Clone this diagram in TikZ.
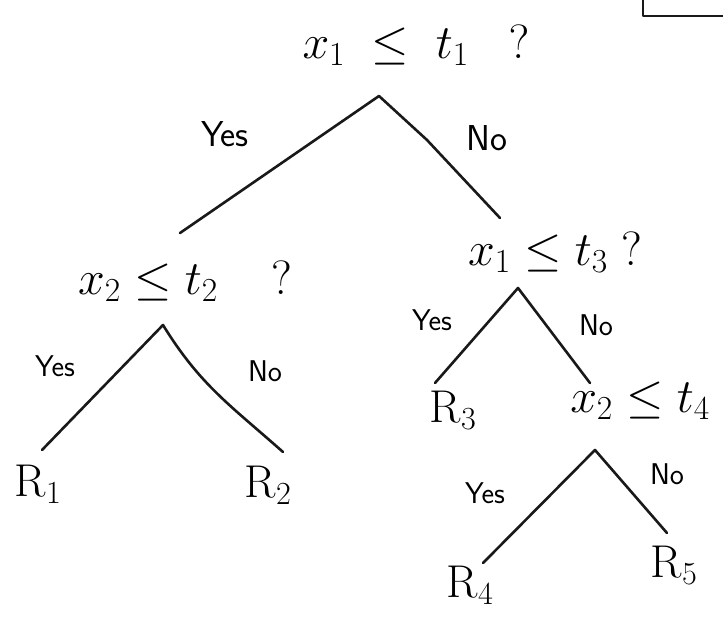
\RequirePackage{fix-cm}
\documentclass[tikz,border=0pt]{standalone}
\usepackage{fontspec}
\begin{document}
\begin{tikzpicture}[x=1pt,y=-1pt,
  edge/.style={line width=2.6pt, line cap=round, line join=round, black!90},
  cond/.style={inner sep=0pt, anchor=center, font=\fontsize{48}{54}\selectfont},
  leaf/.style={inner sep=0pt, anchor=center, font=\fontsize{46}{52}\selectfont},
  biglbl/.style={inner sep=0pt, anchor=center, font=\sffamily\fontsize{36}{40}\selectfont},
  lbl/.style={inner sep=0pt, anchor=center, font=\sffamily\fontsize{30}{34}\selectfont}]
\useasboundingbox[fill=white] (0,0) rectangle (723,618);

% box fragment at top right
\coordinate (b1) at (643,0);
\coordinate (b2) at (643,16);
\coordinate (b3) at (723,16);
\draw[edge] (b1) -- (b2) -- (b3);

% conditions
\node[cond] (q1) at (416,45) {$x_1 \;\le\; t_1 \;\;\;?$};
\node[cond] (q2) at (185,281) {$x_2 \le t_2 \;\;\;\;?$};
\node[cond] (q3) at (555,252) {$x_1 \le t_3 \;?$};
\node[cond] (q4) at (640,401) {$x_2 \le t_4$};

% leaves
\node[leaf] (r1) at (38,484) {R$_1$};
\node[leaf] (r2) at (268,485) {R$_2$};
\node[leaf] (r3) at (453,410) {R$_3$};
\node[leaf] (r4) at (470,585) {R$_4$};
\node[leaf] (r5) at (674,565) {R$_5$};

% apex and end points
\coordinate (a1) at (379,96);
\coordinate (e1l) at (180,233);
\coordinate (e1m) at (427,140);
\coordinate (e1r) at (500,218);
\coordinate (a2) at (163,325);
\coordinate (e2l) at (42,450);
\coordinate (e2r) at (283,452);
\coordinate (a3) at (518,288);
\coordinate (e3l) at (435,383);
\coordinate (e3r) at (590,383);
\coordinate (a4) at (595,450);
\coordinate (e4l) at (483,563);
\coordinate (e4r) at (667,533);

% connectors
\draw[edge] (e1l) -- (a1) -- (e1m) -- (e1r);
\draw[edge] (e2l) -- (a2) .. controls (200,385) and (230,405) .. (e2r);
\draw[edge] (e3l) -- (a3) -- (e3r);
\draw[edge] (e4l) -- (a4) -- (e4r);

% labels
\node[biglbl] (y1) at (225,134) {Yes};
\node[biglbl] (n1) at (487,138) {No};
\node[lbl] (y2) at (55,366) {Yes};
\node[lbl] (n2) at (265,371) {No};
\node[lbl] (y3) at (432,320) {Yes};
\node[lbl] (n3) at (596,325) {No};
\node[lbl] (y4) at (485,493) {Yes};
\node[lbl] (n4) at (667,474) {No};
\end{tikzpicture}
\end{document}
